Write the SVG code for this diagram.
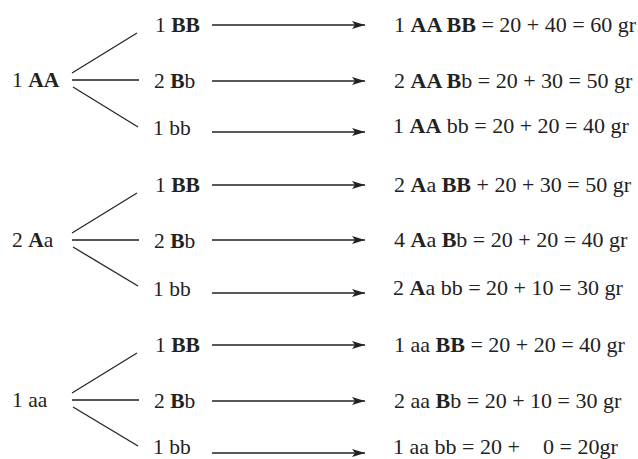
<svg xmlns="http://www.w3.org/2000/svg" width="638" height="459" viewBox="0 0 638 459">
<style>
text{font-family:'Liberation Serif','DejaVu Serif',serif;font-size:21.5px;fill:#222}
.r text{font-size:22px}
.b{font-weight:bold}
.ln{stroke:#222;stroke-width:1.3;fill:none}
.mid{stroke:#555;stroke-width:2;fill:none}
.ar{stroke:#222;stroke-width:1.3;fill:none;marker-end:url(#ah)}
</style>
<defs>
<marker id="ah" markerUnits="userSpaceOnUse" markerWidth="14" markerHeight="10" refX="13" refY="5" orient="auto">
<path d="M0,1 L13,5 L0,9 L3,5 Z" fill="#222"/>
</marker>
</defs>
<rect width="638" height="459" fill="#fff"/>
<g id="connectors">
<line class="ln" x1="72" y1="73" x2="137" y2="33"/>
<line class="mid" x1="72" y1="80" x2="139" y2="80"/>
<line class="ln" x1="73" y1="87" x2="138" y2="127"/>
<line class="ln" x1="72" y1="233" x2="137" y2="193"/>
<line class="mid" x1="72" y1="240" x2="139" y2="240"/>
<line class="ln" x1="73" y1="247" x2="138" y2="286"/>
<line class="ln" x1="72" y1="393" x2="137" y2="353"/>
<line class="mid" x1="72" y1="400" x2="139" y2="400"/>
<line class="ln" x1="73" y1="407" x2="138" y2="446"/>
<line class="ar" x1="212" y1="25" x2="365" y2="25"/>
<line class="ar" x1="212" y1="81" x2="365" y2="81"/>
<line class="ar" x1="212" y1="132" x2="365" y2="132"/>
<line class="ar" x1="212" y1="185" x2="365" y2="185"/>
<line class="ar" x1="212" y1="240" x2="365" y2="240"/>
<line class="ar" x1="212" y1="293" x2="365" y2="293"/>
<line class="ar" x1="212" y1="345" x2="365" y2="345"/>
<line class="ar" x1="212" y1="401" x2="365" y2="401"/>
<line class="ar" x1="212" y1="453" x2="365" y2="453"/>
</g>
<g id="p1"><text x="12" y="87">1 <tspan class="b">AA</tspan></text></g>
<g id="p2"><text x="12" y="247">2 <tspan class="b">A</tspan>a</text></g>
<g id="p3"><text x="12" y="407">1 aa</text></g>
<g id="g1a"><text x="155" y="32">1 <tspan class="b">BB</tspan></text></g>
<g id="g1b"><text x="154" y="88">2 <tspan class="b">B</tspan>b</text></g>
<g id="g1c"><text x="153" y="135">1 bb</text></g>
<g id="g2a"><text x="155" y="192">1 <tspan class="b">BB</tspan></text></g>
<g id="g2b"><text x="154" y="248">2 <tspan class="b">B</tspan>b</text></g>
<g id="g2c"><text x="153" y="296">1 bb</text></g>
<g id="g3a"><text x="155" y="352">1 <tspan class="b">BB</tspan></text></g>
<g id="g3b"><text x="154" y="408">2 <tspan class="b">B</tspan>b</text></g>
<g id="g3c"><text x="153" y="454">1 bb</text></g>
<g class="r">
<g id="r1"><text x="394" y="32">1 <tspan class="b">AA BB</tspan> = 20 + 40 = 60 gr</text></g>
<g id="r2"><text x="394" y="88">2 <tspan class="b">AA B</tspan>b = 20 + 30 = 50 gr</text></g>
<g id="r3"><text x="393" y="133">1 <tspan class="b">AA</tspan> bb = 20 + 20 = 40 gr</text></g>
<g id="r4"><text x="394" y="192">2 <tspan class="b">A</tspan>a <tspan class="b">BB</tspan> + 20 + 30 = 50 gr</text></g>
<g id="r5"><text x="394" y="247">4 <tspan class="b">A</tspan>a <tspan class="b">B</tspan>b = 20 + 20 = 40 gr</text></g>
<g id="r6"><text x="393" y="295">2 <tspan class="b">A</tspan>a bb = 20 + 10 = 30 gr</text></g>
<g id="r7"><text x="394" y="352">1 aa <tspan class="b">BB</tspan> = 20 + 20 = 40 gr</text></g>
<g id="r8"><text x="394" y="408">2 aa <tspan class="b">B</tspan>b = 20 + 10 = 30 gr</text></g>
<g id="r9"><text x="393" y="454">1 aa bb = 20 + <tspan x="543">0 = 20gr</tspan></text></g>
</g>
</svg>
